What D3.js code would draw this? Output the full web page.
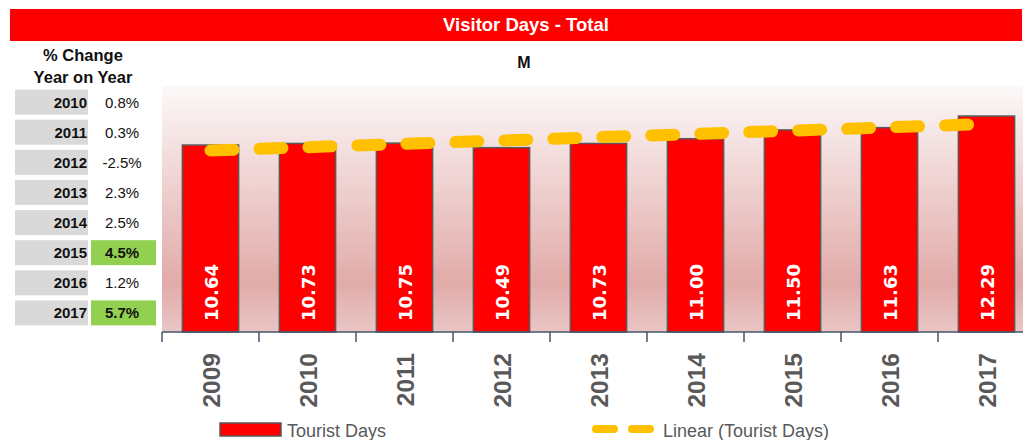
<!DOCTYPE html>
<html>
<head>
<meta charset="utf-8">
<script src="https://cdn.jsdelivr.net/npm/d3@7"></script>
<style>
  body { margin: 0; background: #fff; }
  svg { display: block; font-family: "Liberation Sans", Arial, sans-serif; }
</style>
</head>
<body>
<div id="chart"></div>
<script>
// chart data
const years = ["2009", "2010", "2011", "2012", "2013", "2014", "2015", "2016", "2017"];
const touristDays = [10.64, 10.73, 10.75, 10.49, 10.73, 11.00, 11.50, 11.63, 12.29];

// year on year table
const changeYears = ["2010", "2011", "2012", "2013", "2014", "2015", "2016", "2017"];
const changeValues = ["0.8%", "0.3%", "-2.5%", "2.3%", "2.5%", "4.5%", "1.2%", "5.7%"];
const changeHighlight = [false, false, false, false, false, true, false, true];

const width = 1023, height = 440;

const svg = d3.select('#chart').append('svg')
    .attr('width', width)
    .attr('height', height);

const defs = svg.append('defs');
const grad = defs.append('linearGradient')
    .attr('id', 'bg')
    .attr('x1', 0).attr('y1', 0).attr('x2', 0).attr('y2', 1);
grad.append('stop').attr('offset', '0%').attr('stop-color', '#fcf8f8');
grad.append('stop').attr('offset', '80%').attr('stop-color', '#e1aba9');
grad.append('stop').attr('offset', '100%').attr('stop-color', '#e9c6c5');

// title bar
svg.append('rect')
    .attr('x', 10).attr('y', 9)
    .attr('width', 1012).attr('height', 32)
    .attr('fill', '#ff0000');
svg.append('text')
    .attr('x', 526).attr('y', 31)
    .attr('text-anchor', 'middle')
    .attr('fill', '#fff')
    .style('font-weight', 'bold')
    .style('font-size', '18.5px')
    .text('Visitor Days - Total');

// % change table
svg.append('text')
    .attr('x', 83).attr('y', 61)
    .attr('text-anchor', 'middle')
    .style('font-weight', 'bold').style('font-size', '16.5px')
    .attr('fill', '#111')
    .text('% Change');
svg.append('text')
    .attr('x', 83).attr('y', 83)
    .attr('text-anchor', 'middle')
    .style('font-weight', 'bold').style('font-size', '16.5px')
    .attr('fill', '#111')
    .text('Year on Year');

const rowY = d3.scaleBand()
    .domain(changeYears)
    .range([89, 326])
    .paddingInner(0.17)
    .paddingOuter(0.02);

const rows = svg.append('g').selectAll('g')
    .data(changeYears)
    .enter().append('g')
    .attr('transform', d => `translate(0,${rowY(d)})`);

rows.append('rect')
    .attr('x', 15).attr('width', 73)
    .attr('height', rowY.bandwidth())
    .attr('fill', '#d9d9d9');
rows.append('rect')
    .attr('x', 91).attr('width', 65)
    .attr('height', rowY.bandwidth())
    .attr('fill', (d, i) => changeHighlight[i] ? '#92d050' : 'none');
rows.append('text')
    .attr('x', 87).attr('y', rowY.bandwidth() / 2 + 5.5)
    .attr('text-anchor', 'end')
    .style('font-weight', 'bold').style('font-size', '15px')
    .attr('fill', '#111')
    .text(d => d);
rows.append('text')
    .attr('x', 122).attr('y', rowY.bandwidth() / 2 + 5.5)
    .attr('text-anchor', 'middle')
    .style('font-weight', (d, i) => changeHighlight[i] ? 'bold' : 'normal')
    .style('font-size', '15px')
    .attr('fill', '#111')
    .text((d, i) => changeValues[i]);

// main plot
const plotLeft = 162, plotRight = 1035, plotTop = 86, plotBottom = 332;

svg.append('rect')
    .attr('x', plotLeft).attr('y', plotTop)
    .attr('width', plotRight - plotLeft).attr('height', plotBottom - plotTop)
    .attr('fill', 'url(#bg)');

svg.append('text')
    .attr('x', 524).attr('y', 68)
    .attr('text-anchor', 'middle')
    .style('font-weight', 'bold').style('font-size', '16px')
    .attr('fill', '#111')
    .text('M');

const x = d3.scaleBand()
    .domain(years)
    .range([plotLeft, plotRight])
    .paddingInner(0.42)
    .paddingOuter(0.21);

const y = d3.scaleLinear()
    .domain([0, 14])
    .range([plotBottom, plotTop]);

const data = years.map((yr, i) => ({year: yr, value: touristDays[i]}));

svg.append('g').selectAll('rect')
    .data(data)
    .enter().append('rect')
    .attr('x', d => x(d.year))
    .attr('y', d => y(d.value))
    .attr('width', x.bandwidth())
    .attr('height', d => y(0) - y(d.value))
    .attr('fill', '#ff0000')
    .attr('stroke', '#595959')
    .attr('stroke-width', 1.5);

// value labels inside bars
svg.append('g').selectAll('text')
    .data(data)
    .enter().append('text')
    .attr('transform', d => `translate(${x(d.year) + x.bandwidth() / 2 + 7},${plotBottom - 11}) rotate(-90)`)
    .attr('fill', '#fff')
    .style('font-family', '"DejaVu Sans", Verdana, sans-serif')
    .style('font-size', '18px')
    .style('font-weight', 'bold')
    .text(d => d.value.toFixed(2));

// linear trend line (least squares, like the spreadsheet trendline)
const n = touristDays.length;
const xs = d3.range(n);
const mx = d3.mean(xs), my = d3.mean(touristDays);
const slope = d3.sum(xs, i => (i - mx) * (touristDays[i] - my)) / d3.sum(xs, i => (i - mx) * (i - mx));
const intercept = my - slope * mx;
const trend = years.map((yr, i) => ({year: yr, value: intercept + slope * i}));

const line = d3.line()
    .x(d => x(d.year) + x.bandwidth() / 2)
    .y(d => y(d.value));

svg.append('path')
    .datum([trend[0], trend[n - 1]])
    .attr('d', line)
    .attr('fill', 'none')
    .attr('stroke', '#ffc000')
    .attr('stroke-width', 12)
    .attr('stroke-linecap', 'round')
    .attr('stroke-dasharray', '23,26');

// x axis
const step = x.step();
const tickPos = years.map(yr => x(yr) - step * 0.21);
const axis = svg.append('g');
axis.append('line')
    .attr('x1', plotLeft).attr('x2', plotRight)
    .attr('y1', plotBottom).attr('y2', plotBottom)
    .attr('stroke', '#44546a').attr('stroke-width', 1.5);
axis.selectAll('line.tick')
    .data(tickPos)
    .enter().append('line')
    .attr('class', 'tick')
    .attr('x1', d => d).attr('x2', d => d)
    .attr('y1', plotBottom).attr('y2', plotBottom + 10)
    .attr('stroke', '#44546a').attr('stroke-width', 1.5);
axis.selectAll('text')
    .data(years)
    .enter().append('text')
    .attr('transform', d => `translate(${x(d) + x.bandwidth() / 2 + 9},353) rotate(-90)`)
    .attr('text-anchor', 'end')
    .attr('fill', '#595959')
    .style('font-weight', 'bold')
    .style('font-size', '24.5px')
    .text(d => d);

// legend
const legend = svg.append('g');
legend.append('rect')
    .attr('x', 220).attr('y', 423)
    .attr('width', 61).attr('height', 13)
    .attr('fill', '#ff0000')
    .attr('stroke', '#595959').attr('stroke-width', 1.5);
legend.append('text')
    .attr('x', 287).attr('y', 437)
    .attr('fill', '#595959')
    .style('font-size', '18px')
    .text('Tourist Days');
legend.append('line')
    .attr('x1', 596).attr('x2', 651)
    .attr('y1', 429).attr('y2', 429)
    .attr('stroke', '#ffc000')
    .attr('stroke-width', 8)
    .attr('stroke-linecap', 'round')
    .attr('stroke-dasharray', '18,18');
legend.append('text')
    .attr('x', 663).attr('y', 437)
    .attr('fill', '#595959')
    .style('font-size', '18px')
    .text('Linear (Tourist Days)');
</script>
</body>
</html>
